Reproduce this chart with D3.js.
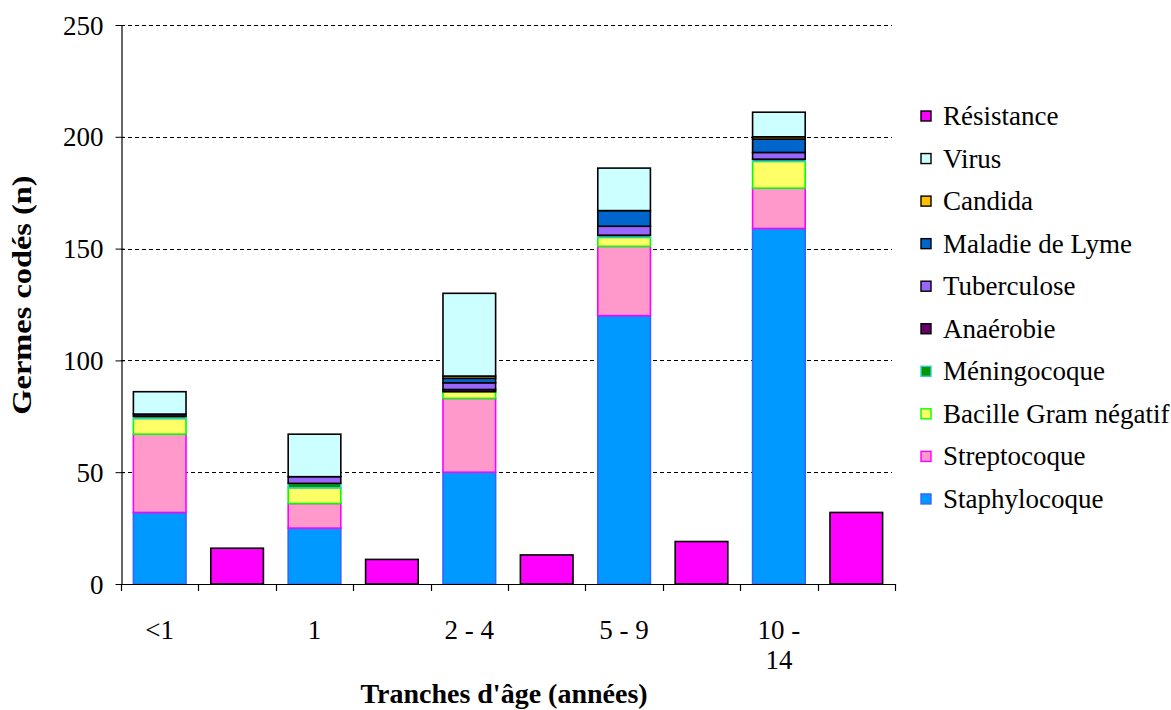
<!DOCTYPE html>
<html>
<head>
<meta charset="utf-8">
<script src="https://cdn.jsdelivr.net/npm/d3@7"></script>
<style>
  html, body { margin: 0; padding: 0; background: #fff; }
  svg { display: block; }
</style>
</head>
<body>
<svg id="chart" width="1171" height="710"></svg>
<script>
// Age groups and germ counts per group
const ageGroups   = ["<1", "1", "2 - 4", "5 - 9", "10 - 14"];
const staphylo    = [32, 25, 50, 120, 159];
const strepto     = [35, 11, 33, 31, 18];
const bacilleGN   = [7, 7, 3, 4, 12];
const meningo     = [1, 2, 0, 1, 1];
const anaerobie   = [1, 0, 1, 0, 0];
const tuberculose = [0, 3, 3, 4, 3];
const lyme        = [0, 0, 2, 7, 6];
const candida     = [0, 0, 1, 0, 1];
const virus       = [10, 19, 37, 19, 11];
const resistance  = [16, 11, 13, 19, 32];
const yTicks      = [0, 50, 100, 150, 200, 250];

// Stack order, bottom to top
const seriesNames = ["Staphylocoque", "Streptocoque", "Bacille Gram négatif", "Méningocoque",
  "Anaérobie", "Tuberculose", "Maladie de Lyme", "Candida", "Virus"];
const seriesValues = [staphylo, strepto, bacilleGN, meningo, anaerobie, tuberculose, lyme, candida, virus];
const fills   = ["#0099FF", "#FF99CC", "#FFFF66", "#009900", "#660066", "#9966FF", "#0066CC", "#FFC000", "#CCFFFF"];
const strokes = ["#3366FF", "#FF00FF", "#00FF00", "#33CCCC", "#000000", "#000000", "#000000", "#000000", "#000000"];

const FONT = "'Liberation Serif'";
const svg = d3.select("#chart");
const plotL = 121, plotR = 895, plotT = 25, plotB = 584;

// Each age group uses two slots: stacked germs, then resistance
const slots = d3.range(ageGroups.length * 2);
const x = d3.scaleBand().domain(slots).range([plotL, plotR]).padding(0);
const y = d3.scaleLinear().domain([0, 250]).range([plotB, plotT]);
const barW = x.bandwidth() * 0.68;
const barOff = (x.bandwidth() - barW) / 2;

// Dashed gridlines
svg.append("g").selectAll("line").data(yTicks.filter(d => d > 0)).join("line")
  .attr("x1", plotL).attr("x2", plotR - 3)
  .attr("y1", d => Math.round(y(d)) + 0.5).attr("y2", d => Math.round(y(d)) + 0.5)
  .attr("stroke", "#000").attr("stroke-width", 1).attr("stroke-dasharray", "4,3");

// Stacked bars
const table = ageGroups.map((g, i) => {
  const row = { group: g };
  seriesNames.forEach((s, k) => row[s] = seriesValues[k][i]);
  return row;
});
const stacked = d3.stack().keys(seriesNames)(table);
stacked.forEach((layer, k) => {
  svg.append("g").selectAll("rect").data(layer).join("rect")
    .attr("x", (d, i) => x(i * 2) + barOff)
    .attr("width", barW)
    .attr("y", d => y(d[1]))
    .attr("height", d => y(d[0]) - y(d[1]))
    .attr("fill", fills[k])
    .attr("stroke", strokes[k])
    .attr("stroke-width", 1.6);
});

// Resistance bars
svg.append("g").selectAll("rect").data(resistance).join("rect")
  .attr("x", (d, i) => x(i * 2 + 1) + barOff)
  .attr("width", barW)
  .attr("y", d => y(d))
  .attr("height", d => y(0) - y(d))
  .attr("fill", "#FF00FF")
  .attr("stroke", "#000")
  .attr("stroke-width", 1.6);

// Y axis
const yAxis = svg.append("g").attr("transform", `translate(${plotL + 0.5},0)`)
  .call(d3.axisLeft(y).tickValues(yTicks).tickSize(6).tickSizeOuter(0).tickPadding(12));
yAxis.select(".domain").attr("stroke", "#000").attr("stroke-width", 1.2);
yAxis.selectAll(".tick line").attr("stroke", "#000").attr("x2", -6).attr("x1", 3);
yAxis.selectAll(".tick text").attr("dy", null).attr("y", 9).attr("fill", "#000");

// X axis line with slot-boundary ticks
svg.append("line").attr("x1", plotL).attr("x2", plotR).attr("y1", plotB + 0.5).attr("y2", plotB + 0.5)
  .attr("stroke", "#000").attr("stroke-width", 1.2);
svg.append("g").selectAll("line").data(d3.range(slots.length + 1)).join("line")
  .attr("x1", i => Math.round(plotL + i * x.bandwidth()) + 0.5)
  .attr("x2", i => Math.round(plotL + i * x.bandwidth()) + 0.5)
  .attr("y1", plotB).attr("y2", plotB + 7)
  .attr("stroke", "#000").attr("stroke-width", 1.2);

// Age group labels (the last one wraps onto two lines)
const xLabels = svg.append("g").selectAll("text").data(ageGroups).join("text")
  .attr("x", (d, i) => x(i * 2) + x.bandwidth() / 2)
  .attr("y", 639)
  .attr("text-anchor", "middle");
xLabels.each(function(d) {
  const t = d3.select(this);
  const parts = d === "10 - 14" ? ["10 -", "14"] : [d];
  parts.forEach((p, j) => t.append("tspan").attr("x", t.attr("x")).attr("dy", j === 0 ? 0 : 30).text(p));
});

// Legend, top to bottom
const legendItems = [{ name: "Résistance", fill: "#FF00FF", stroke: "#000" }]
  .concat(seriesNames.map((s, k) => ({ name: s, fill: fills[k], stroke: strokes[k] })).reverse());
const legend = svg.append("g").selectAll("g").data(legendItems).join("g")
  .attr("transform", (d, i) => `translate(921,${116 + i * 42.55})`);
legend.append("rect").attr("x", 0).attr("y", -5).attr("width", 10).attr("height", 10)
  .attr("fill", d => d.fill).attr("stroke", d => d.stroke).attr("stroke-width", 1.4);
legend.append("text").attr("x", 22).attr("y", 9).text(d => d.name);

// Typography for the regular texts
svg.selectAll("text")
  .style("font-family", FONT)
  .style("font-size", "27px")
  .style("fill", "#000");

// Axis titles
svg.append("text").attr("x", 504).attr("y", 703).attr("text-anchor", "middle")
  .style("font-family", FONT).style("font-size", "28px").style("font-weight", "bold")
  .text("Tranches d'âge (années)");
svg.append("text").attr("transform", "translate(31,295) rotate(-90) scale(1.2,1)")
  .attr("text-anchor", "middle")
  .style("font-family", FONT).style("font-size", "27px").style("font-weight", "bold")
  .text("Germes codés (n)");
</script>
</body>
</html>
